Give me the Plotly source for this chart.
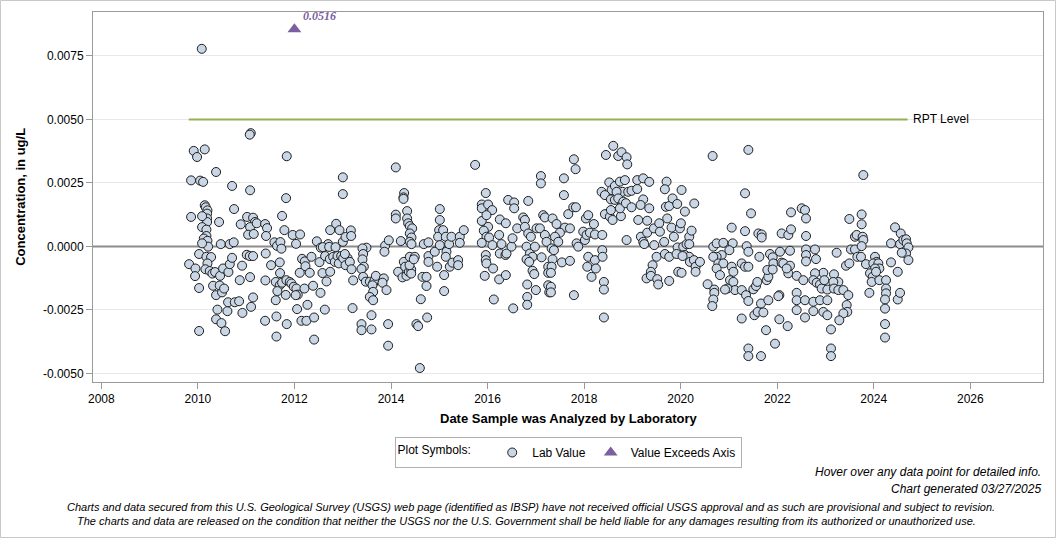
import plotly.graph_objects as go
from datetime import datetime

# ---------------- DATA (decimal year, concentration in ug/L x 1e-4) ----------------
dates_2009_2013 = [
    2010.079, 2011.095, 2011.074, 2009.913, 2009.982, 2010.141, 2011.841, 2010.376, 2009.858, 2010.045,
    2010.107, 2010.708, 2011.081, 2011.827, 2013.001, 2013.001, 2009.858, 2010.141, 2010.162, 2010.197,
    2010.190, 2010.190, 2010.190, 2010.086, 2010.438, 2010.749, 2011.019, 2011.143, 2011.184, 2011.081,
    2010.887, 2011.040, 2011.157, 2011.219, 2010.086, 2010.176, 2010.176, 2010.121, 2010.197, 2010.211,
    2010.086, 2010.024, 2010.473, 2010.660, 2010.742, 2011.392, 2011.433, 2011.412, 2011.744, 2011.792,
    2011.585, 2011.640, 2011.709, 2011.730, 2011.965, 2012.034, 2012.117, 2012.463, 2012.545, 2012.697,
    2012.739, 2012.863, 2012.932, 2013.001, 2013.057, 2013.167, 2013.174, 2012.587, 2012.718, 2012.850,
    2013.098,
    2009.817, 2009.948, 2009.941, 2010.024, 2010.024, 2010.176, 2010.273, 2010.197, 2010.155, 2010.245,
    2010.300, 2010.356, 2010.459, 2010.521, 2010.632, 2010.660, 2010.708, 2010.314, 2010.376, 2010.452,
    2010.500, 2010.542, 2010.404, 2010.376, 2010.487, 2010.563, 2010.611, 2010.625, 2010.763, 2010.853,
    2010.922, 2010.867, 2010.915, 2011.081, 2011.102, 2011.143, 2011.012, 2011.074, 2011.143, 2011.405,
    2011.516, 2011.398, 2011.392, 2011.613, 2011.613, 2011.627, 2011.627, 2011.696, 2011.702, 2011.696,
    2011.744, 2011.820, 2011.841, 2011.647, 2011.834, 2011.903, 2011.937, 2011.986, 2012.041, 2012.069,
    2012.027, 2012.055, 2012.110, 2012.158, 2012.214, 2012.228, 2012.207, 2012.269, 2012.145, 2012.248,
    2012.317, 2012.352, 2012.386, 2012.407, 2012.407, 2012.518, 2012.539, 2012.580, 2012.629, 2012.663,
    2012.635, 2012.732, 2012.739, 2012.801, 2012.835, 2012.891, 2012.918, 2012.967, 2013.008, 2013.043,
    2013.057, 2013.146, 2013.181, 2013.215, 2013.202,
]
values_2009_2013 = [
    77.8, 44.6, 44.0, 37.6, 35.2, 38.2, 35.5, 29.3, 26.0, 25.9,
    25.4, 23.8, 22.1, 19.0, 27.2, 20.6, 11.6, 16.2, 15.4, 14.2,
    12.9, 11.0, 9.6, 11.9, 9.6, 14.7, 11.6, 11.3, 9.6, 7.6,
    8.7, 4.6, 4.9, 9.1, 7.6, 6.6, 4.1, 3.1, 2.2, -0.1,
    1.2, -3.0, 0.9, 0.9, 1.6, 8.8, 7.2, 4.1, 12.0, 6.4,
    1.6, 0.2, 1.7, -0.9, 4.5, 1.0, 4.7, 2.0, -0.5, 0.9,
    6.4, 8.9, 6.4, 1.8, 3.7, 6.3, 4.1, -0.3, -0.2, -0.3,
    -4.6,
    -7.0, -8.7, -11.7, -16.4, -33.3, -4.1, -4.2, -6.7, -9.0, -9.7,
    -10.7, -10.1, -11.6, -8.7, -10.1, -7.0, -4.5, -15.5, -19.2, -15.4,
    -18.1, -16.6, -24.9, -28.7, -30.2, -33.4, -25.5, -22.0, -22.0, -21.6,
    -26.2, -13.3, -7.6, -12.1, -23.8, -20.1, -3.3, -3.8, -3.8, -2.8,
    -7.4, -13.4, -29.3, -14.0, -21.2, -27.6, -35.5, -6.3, -10.5, -15.3,
    -14.3, -19.1, -30.6, -17.6, -13.3, -14.0, -14.6, -15.9, -16.6, -19.0,
    -19.2, -24.7, -10.4, -4.9, -5.9, -7.8, -16.6, -23.0, -29.3, -29.3,
    -10.4, -4.1, -15.5, -28.0, -36.7, -6.2, -18.3, -10.5, -24.9, -13.8,
    -3.8, -5.0, -10.0, -4.1, -6.1, -3.8, -6.7, -3.8, -4.7, -3.0,
    -7.4, -6.1, -9.0, -13.4, -24.3,
]

dates_2013_2017 = [
    2014.099, 2014.099, 2014.099, 2014.272, 2014.258, 2014.258, 2014.334, 2014.334, 2014.355, 2014.389,
    2014.438, 2014.389, 2014.424, 2014.389, 2014.424, 2014.203, 2013.878, 2013.864, 2013.954, 2013.491,
    2013.408, 2013.422, 2013.408, 2013.436, 2013.388, 2013.422, 2013.477, 2013.560, 2013.629, 2013.657,
    2013.685, 2013.850, 2013.823, 2013.615, 2013.629, 2013.560, 2013.629, 2013.906, 2013.388, 2013.388,
    2013.595, 2013.595, 2013.940, 2013.940, 2014.147, 2014.265, 2014.293, 2014.237, 2014.320, 2014.369,
    2014.418, 2014.418, 2014.384, 2014.389, 2014.493, 2014.472, 2014.652, 2014.735, 2014.735, 2014.617,
    2014.749, 2014.527, 2014.562, 2014.597, 2014.679, 2014.776, 2014.776, 2014.776, 2014.907, 2014.956,
    2015.011, 2015.011, 2014.997, 2014.976, 2015.011, 2015.080, 2015.135, 2015.149, 2015.135, 2015.204,
    2015.218, 2015.253, 2015.101, 2015.101, 2015.273, 2015.391, 2015.425, 2015.425, 2015.508, 2015.391,
    2015.743, 2015.964, 2015.881, 2015.881, 2016.013, 2016.096, 2015.881, 2015.978, 2016.013, 2015.923,
    2015.978, 2016.033, 2016.102, 2015.881, 2015.964, 2015.964, 2015.978, 2015.943, 2016.116, 2016.130,
    2016.241, 2016.254, 2016.289, 2016.379, 2016.254, 2016.372, 2016.241, 2016.379, 2016.393, 2016.496,
    2016.517, 2016.427, 2016.551, 2016.551, 2016.614, 2016.738, 2016.773, 2016.842, 2016.773, 2016.842,
    2016.897, 2016.807, 2016.876, 2016.931, 2016.807, 2016.862, 2016.931, 2016.966, 2016.821, 2016.821,
    2016.821, 2017.000, 2016.531, 2016.980, 2017.014, 2017.083, 2017.118, 2017.152, 2017.187, 2017.104,
    2017.104, 2017.187, 2017.221, 2017.256, 2017.256, 2017.256, 2017.277,
]
values_2013_2017 = [
    31.1, 12.5, 11.0, 21.0, 19.3, 18.7, 13.9, 11.0, 9.1, 8.0,
    7.1, 5.1, 3.5, 1.8, 0.9, 2.1, 0.3, -2.1, 2.4, -0.5,
    -0.8, -3.0, -5.1, -8.0, -8.9, -12.0, -13.9, -13.9, -14.6, -13.4,
    -11.6, -12.6, -14.3, -15.3, -17.9, -19.9, -21.2, -17.2, -30.6, -33.0,
    -32.7, -27.1, -30.6, -39.1, -10.0, -6.1, -8.0, -12.2, -11.6, -10.0,
    -9.1, -10.7, -7.4, -4.1, -4.1, -5.1, -12.0, -12.0, -15.6, -20.8,
    -28.0, -30.6, -31.4, -47.9, 0.9, 1.6, -3.8, -6.1, -2.1, -8.0,
    14.7, 10.4, 6.4, 3.8, 0.5, 6.4, 3.8, -2.1, -4.1, 0.9,
    -8.0, 3.8, -11.3, -17.6, -6.4, -5.4, 3.8, 1.4, 6.4, -7.4,
    32.1, 21.0, 16.5, 15.0, 16.5, 14.3, 10.0, 12.3, 7.7, 6.2,
    3.8, 3.5, 0.5, 1.4, -3.4, -5.4, -6.7, -11.6, -8.7, -20.9,
    4.5, 10.6, 0.9, 9.1, -2.8, -3.4, -13.0, -11.3, -2.8, -0.1,
    3.2, 18.3, 17.3, 15.0, 7.1, 11.4, 10.4, 17.9, 7.7, 5.1,
    3.8, -0.1, -2.8, -4.1, -5.1, -6.1, -9.6, -10.9, -15.0, -19.9,
    -23.0, -17.2, -24.4, -0.1, 7.1, 7.1, -4.3, 12.3, 11.4, 27.7,
    24.8, 4.5, 1.8, -8.0, -10.4, -15.3, -18.1,
]

dates_2017_2021 = [
    2017.346, 2017.429, 2017.326, 2017.374, 2017.346, 2017.326, 2017.312, 2017.312, 2017.312, 2017.602,
    2017.706, 2017.498, 2017.395, 2017.464, 2017.581, 2017.581, 2017.788, 2017.823, 2017.671, 2017.775,
    2017.830, 2017.844, 2017.878, 2017.788, 2017.540, 2017.706, 2018.037, 2018.085, 2017.982, 2018.016,
    2018.051, 2018.120, 2018.203, 2018.224, 2018.376, 2018.085, 2018.065, 2018.154, 2018.224, 2018.244,
    2018.376, 2018.382, 2018.410, 2018.410, 2018.410, 2018.452, 2018.604, 2018.707, 2018.776, 2018.880,
    2018.894, 2018.521, 2018.569, 2018.638, 2018.742, 2018.845, 2018.797, 2018.914, 2018.983, 2019.101,
    2019.101, 2019.225, 2019.350, 2018.362, 2018.431, 2018.555, 2018.638, 2018.673, 2018.707, 2018.811,
    2019.225, 2019.170, 2019.350, 2018.431, 2018.534, 2018.590, 2018.555, 2018.763, 2018.742, 2018.866,
    2018.983, 2018.880, 2019.122, 2019.308, 2019.177, 2019.225, 2019.308, 2019.246, 2019.446, 2019.557,
    2019.571, 2019.453, 2019.660, 2019.723, 2019.812, 2019.861, 2019.985, 2020.006, 2019.709, 2019.674,
    2019.695, 2019.764, 2019.833, 2019.930, 2020.020, 2020.089, 2020.282, 2019.937, 2020.054, 2020.123,
    2020.179, 2020.227, 2020.179, 2020.089, 2020.179, 2020.192, 2020.275, 2020.310, 2020.310, 2020.400,
    2019.951, 2020.020, 2019.502, 2019.674, 2019.764, 2019.916, 2020.040, 2019.419, 2019.384, 2019.294,
    2019.384, 2019.516, 2019.536, 2019.764, 2020.662, 2020.676, 2020.745, 2020.883, 2021.077, 2021.056,
    2021.008, 2020.849, 2020.745, 2020.676, 2020.780, 2020.883, 2020.745, 2020.814, 2021.056, 2021.091,
    2021.021, 2021.091, 2021.125, 2020.966, 2020.918, 2020.558, 2020.697, 2020.697, 2020.676, 2020.655,
]
values_2017_2021 = [
    11.0, 8.8, -0.8, -1.5, -5.1, -8.0, -10.4, -15.9, -18.1, 7.4,
    7.1, 5.4, 3.8, 1.8, 26.8, 20.2, 34.3, 30.4, 12.7, 15.4,
    15.4, 1.2, -0.1, -19.2, -6.3, -5.7, 11.0, 12.3, 5.8, 2.5,
    4.5, 5.4, 8.8, 4.7, 4.5, -4.1, -8.0, -12.0, -5.4, -8.7,
    -1.5, -4.1, -14.0, -17.0, -28.0, 36.0, 39.6, 35.6, 37.1, 35.1,
    32.3, 25.2, 22.2, 23.8, 25.5, 26.1, 21.5, 21.5, 21.9, 22.6,
    26.1, 26.8, 25.4, 21.5, 20.2, 18.5, 18.3, 21.5, 18.9, 17.6,
    18.5, 16.3, 15.0, 12.7, 11.7, 10.4, 14.3, 11.9, 15.0, 17.0,
    15.4, 2.5, 10.4, 10.1, 3.8, 1.8, 5.4, 0.9, 7.1, 9.1,
    5.8, 0.5, 1.8, 11.0, 7.4, 3.8, 7.1, 9.1, 25.5, 22.5,
    15.6, 15.9, 18.9, 16.7, 22.2, 13.7, 16.9, -0.4, -0.1, 0.9,
    3.8, 6.2, 0.9, -3.4, -4.1, -6.1, -5.4, -8.0, -10.0, -6.1,
    -10.0, -10.4, -4.1, -3.0, -4.1, -3.0, -3.8, -7.4, -10.0, -12.6,
    -11.6, -12.9, -15.0, -13.6, 35.6, -0.1, 1.2, 1.4, 1.2, 7.4,
    -1.5, -3.4, -4.1, -4.1, -6.7, -6.7, -8.7, -11.3, -8.0, -10.0,
    -13.3, -14.0, -17.2, -16.6, -17.0, -14.9, -17.0, -18.3, -20.9, -23.5,
]

dates_2021_2025 = [
    2021.402, 2021.333, 2021.457, 2021.333, 2021.367, 2021.402, 2021.264, 2021.333, 2021.402, 2021.630,
    2021.264, 2021.353, 2021.402, 2021.264, 2021.505, 2021.561, 2021.588, 2021.609, 2021.678, 2021.678,
    2021.526, 2021.595, 2021.713, 2021.664, 2021.816, 2021.782, 2021.816, 2021.795, 2021.851, 2021.906,
    2021.920, 2021.906, 2022.044, 2022.023, 2022.058, 2022.092, 2022.092, 2022.127, 2022.230, 2022.286,
    2022.286, 2022.265, 2022.230, 2022.265, 2022.196, 2022.044, 2022.217, 2021.768, 2021.954, 2021.402,
    2021.402, 2021.664, 2022.403, 2022.403, 2022.403, 2022.403, 2022.541, 2022.576, 2022.576, 2022.749,
    2022.749, 2022.887, 2022.956, 2023.039, 2023.039, 2023.115, 2023.115, 2023.115, 2022.956, 2022.783,
    2022.749, 2022.818, 2022.887, 2022.922, 2023.039, 2022.977, 2022.507, 2022.576, 2022.597, 2022.597,
    2022.597, 2022.597, 2022.597, 2022.783, 2022.804, 2023.232, 2023.177, 2023.267, 2023.163, 2023.177,
    2023.267, 2023.371, 2023.474, 2023.440, 2023.453, 2023.371, 2023.287, 2023.426, 2023.495, 2023.529,
    2023.495, 2023.612, 2023.661, 2023.612, 2023.647,
    2023.785, 2023.750, 2023.750, 2023.771, 2023.785, 2023.750, 2023.737, 2023.840, 2023.910, 2024.027,
    2024.061, 2023.992, 2024.096, 2024.117, 2024.027, 2023.923, 2023.979, 2023.958, 2024.117, 2024.048,
    2024.255, 2024.255, 2024.255, 2024.234, 2024.234, 2024.234, 2024.234, 2024.358, 2024.358, 2024.441,
    2024.497, 2024.497, 2024.545, 2024.559, 2024.545, 2024.614, 2024.669, 2024.683, 2024.718, 2024.669,
    2024.580, 2024.718,
]
values_2021_2025 = [
    38.0, 20.9, 13.0, 6.0, 0.1, -2.1, -6.7, -8.0, -8.0, -4.1,
    -17.2, -19.2, -21.5, -28.4, -16.9, -15.6, -14.0, 5.1, 4.7, 3.5,
    -27.1, -25.8, -26.0, -22.5, -21.2, -13.3, -12.0, -9.3, -3.0, -4.3,
    -6.7, -9.1, -19.2, -19.6, -2.1, 5.1, -6.4, -6.7, 4.5, 6.7,
    13.4, -1.7, -10.6, -7.6, -8.7, -28.7, -31.4, -33.0, -38.3, -40.2,
    -43.2, -43.2, -11.6, -18.3, -21.2, -25.1, -13.3, -21.2, -28.0, -21.8,
    -25.5, -21.2, -25.8, -21.2, -27.1, -32.7, -40.2, -43.2, -10.4, -10.6,
    -13.3, -14.3, -15.0, -16.6, -17.0, -13.3, 15.0, 14.3, 11.0, 4.1,
    -1.2, -3.4, -5.9, -1.2, -5.0, -2.5, -11.0, -14.0, -14.0, -16.6,
    -17.2, -17.2, -19.2, -23.1, -25.8, -26.4, -29.1, -7.6, -6.7, -1.2,
    10.8, -1.2, -4.1, 3.8, 4.5,
    28.1, 12.6, 8.7, 3.8, 2.5, 0.1, -4.1, -7.0, -18.3, -4.1,
    -6.1, -6.7, -6.7, -8.7, -8.7, -10.6, -12.0, -14.0, -13.3, -10.0,
    -13.3, -16.6, -18.5, -20.9, -24.5, -30.6, -35.9, 1.2, -6.3, 7.5,
    -10.0, -20.9, -18.3, 5.1, 0.9, 2.5, 2.8, 1.2, -0.4, -2.8,
    -2.5, -5.4,
]
VALUE_SCALE = 1e-4  # the value lists above are in units of 0.0001 ug/L

exceed_dates = [2012.0]
exceed_values = [0.0516]

rpt_level = 0.005
rpt_start, rpt_end = 2009.81, 2024.70

y_tick_vals = [-0.005, -0.0025, 0.0, 0.0025, 0.005, 0.0075]
y_tick_text = ["-0.0050", "-0.0025", "0.0000", "0.0025", "0.0050", "0.0075"]
x_tick_years = [2008, 2010, 2012, 2014, 2016, 2018, 2020, 2022, 2024, 2026]

# ---------------- helpers ----------------
def dec_to_dt(y):
    yr = int(y)
    start = datetime(yr, 1, 1)
    end = datetime(yr + 1, 1, 1)
    return start + (end - start) * (y - yr)

lab_dates = [dec_to_dt(d) for d in dates_2009_2013 + dates_2013_2017 + dates_2017_2021 + dates_2021_2025]
lab_vals = [v * VALUE_SCALE for v in values_2009_2013 + values_2013_2017 + values_2017_2021 + values_2021_2025]

Y_MIN, Y_MAX = -0.00534, 0.00923
EXCEED_PLOT_Y = 0.00855  # where "exceeds axis" symbols are drawn

FONT = "Liberation Sans, Arial, sans-serif"

fig = go.Figure()

# zero reference line
fig.add_trace(go.Scatter(
    x=[datetime(2007, 10, 30), datetime(2027, 7, 5)], y=[0, 0], mode="lines",
    line=dict(color="#8c8c8c", width=2), showlegend=False, hoverinfo="skip"))

# RPT level
fig.add_trace(go.Scatter(
    x=[dec_to_dt(rpt_start), dec_to_dt(rpt_end)], y=[rpt_level, rpt_level], mode="lines",
    line=dict(color="#93b152", width=2), showlegend=False, hoverinfo="skip"))

fig.add_trace(go.Scatter(
    x=lab_dates, y=lab_vals, mode="markers", name="Lab Value",
    marker=dict(symbol="circle", size=9, color="#c9d6e6", line=dict(color="#1e1e1e", width=1))))

fig.add_trace(go.Scatter(
    x=[dec_to_dt(d) for d in exceed_dates], y=[EXCEED_PLOT_Y] * len(exceed_dates),
    mode="markers", name="Value Exceeds Axis",
    customdata=exceed_values,
    hovertemplate="%{customdata}<extra></extra>",
    marker=dict(symbol="triangle-up", size=12, color="#7b5fa0")))

annotations = []
for d, v in zip(exceed_dates, exceed_values):
    annotations.append(dict(
        x=dec_to_dt(d), y=EXCEED_PLOT_Y, xref="x", yref="y", text=f"<b><i>{v:.4f}</i></b>",
        showarrow=False, xanchor="left", yanchor="middle", xshift=7, yshift=13,
        font=dict(family="Liberation Serif, Times New Roman, serif", size=12, color="#7b5fa0")))

annotations.append(dict(
    x=dec_to_dt(rpt_end), y=rpt_level, xref="x", yref="y", text="RPT Level",
    showarrow=False, xanchor="left", yanchor="middle", xshift=3,
    font=dict(family=FONT, size=12, color="#000")))

# axis titles
annotations.append(dict(
    x=0.5, y=-0.0975, xref="paper", yref="paper", text="<b>Date Sample was Analyzed by Laboratory</b>",
    showarrow=False, xanchor="center", yanchor="middle", font=dict(family=FONT, size=13, color="#000")))
annotations.append(dict(
    x=-0.077, y=0.5, xref="paper", yref="paper", text="<b>Concentration, in ug/L</b>", textangle=-90,
    showarrow=False, xanchor="center", yanchor="middle", font=dict(family=FONT, size=13, color="#000")))

# footer texts
def ypx(p):
    return (382 - p) / 370.0

annotations.append(dict(
    x=1.0, y=ypx(472), xref="paper", yref="paper", text="<i>Hover over any data point for detailed info.</i>",
    showarrow=False, xanchor="right", yanchor="middle", font=dict(family=FONT, size=12, color="#000")))
annotations.append(dict(
    x=1.0, y=ypx(489), xref="paper", yref="paper", text="<i>Chart generated 03/27/2025</i>",
    showarrow=False, xanchor="right", yanchor="middle", font=dict(family=FONT, size=12, color="#000")))
annotations.append(dict(
    x=(531 - 93) / 950.0, y=ypx(507), xref="paper", yref="paper",
    text="<i>Charts and data secured from this U.S. Geological Survey (USGS) web page (identified as IBSP) have not received official USGS approval and as such are provisional and subject to revision.</i>",
    showarrow=False, xanchor="center", yanchor="middle", font=dict(family=FONT, size=11, color="#000")))
annotations.append(dict(
    x=(526 - 93) / 950.0, y=ypx(521), xref="paper", yref="paper",
    text="<i>The charts and data are released on the condition that neither the USGS nor the U.S. Government shall be held liable for any damages resulting from its authorized or unauthorized use.</i>",
    showarrow=False, xanchor="center", yanchor="middle", font=dict(family=FONT, size=11, color="#000")))

shapes = [dict(
    type="rect", xref="paper", yref="paper",
    x0=(0.5 - 93) / 950.0, x1=(1055.5 - 93) / 950.0, y0=ypx(537.5), y1=ypx(0.5),
    line=dict(color="#c8c8c8", width=1), fillcolor="rgba(0,0,0,0)", layer="below")]

fig.update_layout(
    width=1056, height=538,
    margin=dict(l=93, r=13, t=12, b=156, autoexpand=False),
    paper_bgcolor="white", plot_bgcolor="white",
    font=dict(family=FONT, size=12, color="#000"),
    annotations=annotations, shapes=shapes,
    legend=dict(
        orientation="h", x=0.5, xanchor="center", y=ypx(437), yanchor="top",
        title=dict(text="Plot Symbols:    ", font=dict(size=12)),
        bordercolor="#b0b0b0", borderwidth=1, font=dict(family=FONT, size=12),
        itemwidth=30, tracegroupgap=0),
    xaxis=dict(
        type="date", range=[datetime(2007, 10, 30), datetime(2027, 7, 5)],
        tickvals=[datetime(y, 1, 1) for y in x_tick_years], ticktext=[str(y) for y in x_tick_years],
        ticks="outside", ticklen=6, tickcolor="#9a9a9a", showgrid=False, zeroline=False,
        showline=True, mirror=True, linecolor="#9a9a9a", linewidth=1,
        tickfont=dict(family=FONT, size=12, color="#000")),
    yaxis=dict(
        range=[Y_MIN, Y_MAX], tickvals=y_tick_vals, ticktext=y_tick_text,
        ticks="outside", ticklen=6, tickcolor="#9a9a9a", showgrid=True, gridcolor="#e8e8e8",
        zeroline=False, showline=True, mirror=True, linecolor="#9a9a9a", linewidth=1,
        tickfont=dict(family=FONT, size=12, color="#000")),
)

fig.write_html("out.html")
